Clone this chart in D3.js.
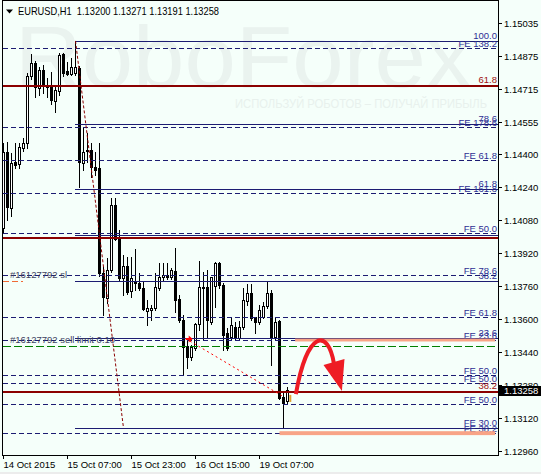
<!DOCTYPE html>
<meta charset="utf-8">
<style>
body { margin: 0; background: #f5fffa; }
svg { display: block; font-family: "Liberation Sans", Arial, sans-serif; }
.lvl { font-size: 9.5px; }
</style>
<svg width="541" height="474"></svg>
<script src="https://d3js.org/d3.v7.min.js"></script>
<script>

// DATA
var symbol = "EURUSD,H1";
var timeLabels = ["14 Oct 2015", "15 Oct 07:00", "15 Oct 23:00", "16 Oct 15:00", "19 Oct 07:00"];
var timeBars = [0, 16, 32, 48, 64];
var priceTicks = [1.15035, 1.14875, 1.14715, 1.14555, 1.14400, 1.14240, 1.14080,
                  1.13920, 1.13760, 1.13600, 1.13440, 1.13280, 1.13120, 1.12960];

var opens = [1.14041, 1.14410, 1.14138, 1.14361, 1.14351, 1.14429, 1.14453, 1.14778, 1.14841, 1.14720,
             1.14807, 1.14730, 1.14725, 1.14657, 1.14705, 1.14885, 1.14802, 1.14788, 1.14793, 1.14817,
             1.14356, 1.14419, 1.14419, 1.14337, 1.14332, 1.13823, 1.13702, 1.13837, 1.14153, 1.13997,
             1.13799, 1.13857, 1.13736, 1.13779, 1.13774, 1.13750, 1.13639, 1.13643, 1.13653, 1.13750,
             1.13804, 1.13813, 1.13804, 1.13833, 1.13697, 1.13595, 1.13469, 1.13416, 1.13459, 1.13576,
             1.13755, 1.13755, 1.13585, 1.13760, 1.13871, 1.13765, 1.13532, 1.13513, 1.13561, 1.13508,
             1.13561, 1.13687, 1.13726, 1.13610, 1.13585, 1.13610, 1.13663, 1.13726, 1.13513, 1.13590,
             1.13222, 1.13200];
var highs = [1.14453, 1.14458, 1.14405, 1.14453, 1.14453, 1.14477, 1.14793, 1.14885, 1.14851, 1.14822,
             1.14831, 1.14768, 1.14797, 1.14725, 1.14890, 1.14890, 1.14846, 1.14865, 1.14948, 1.14827,
             1.14526, 1.14502, 1.14453, 1.14410, 1.14453, 1.13852, 1.13896, 1.14187, 1.14187, 1.14031,
             1.13910, 1.13900, 1.13900, 1.13939, 1.13823, 1.13779, 1.13692, 1.13668, 1.13823, 1.13871,
             1.13871, 1.13871, 1.13847, 1.13944, 1.13716, 1.13619, 1.13498, 1.13474, 1.13581, 1.13881,
             1.13828, 1.13837, 1.13804, 1.13876, 1.13876, 1.13774, 1.13556, 1.13610, 1.13585, 1.13590,
             1.13750, 1.13770, 1.13770, 1.13610, 1.13668, 1.13682, 1.13779, 1.13741, 1.13610, 1.13595,
             1.13246, 1.13271];
var lows = [1.14022, 1.14080, 1.14099, 1.14332, 1.14332, 1.14414, 1.14429, 1.14764, 1.14676, 1.14686,
            1.14696, 1.14676, 1.14642, 1.14604, 1.14686, 1.14778, 1.14783, 1.14783, 1.14783, 1.14240,
            1.14322, 1.14361, 1.14288, 1.14298, 1.13808, 1.13619, 1.13677, 1.13828, 1.13983, 1.13789,
            1.13716, 1.13721, 1.13707, 1.13741, 1.13741, 1.13643, 1.13571, 1.13595, 1.13643, 1.13741,
            1.13789, 1.13794, 1.13794, 1.13634, 1.13585, 1.13328, 1.13362, 1.13401, 1.13450, 1.13547,
            1.13498, 1.13508, 1.13576, 1.13658, 1.13750, 1.13450, 1.13450, 1.13498, 1.13498, 1.13498,
            1.13551, 1.13668, 1.13595, 1.13532, 1.13576, 1.13605, 1.13653, 1.13377, 1.13503, 1.13212,
            1.13071, 1.13191];
var closes = [1.14410, 1.14143, 1.14356, 1.14347, 1.14434, 1.14453, 1.14778, 1.14841, 1.14725, 1.14807,
              1.14730, 1.14725, 1.14662, 1.14710, 1.14880, 1.14793, 1.14788, 1.14822, 1.14822, 1.14361,
              1.14410, 1.14414, 1.14337, 1.14322, 1.13823, 1.13707, 1.13837, 1.14153, 1.13988, 1.13799,
              1.13857, 1.13731, 1.13799, 1.13774, 1.13750, 1.13648, 1.13653, 1.13653, 1.13755, 1.13804,
              1.13813, 1.13804, 1.13837, 1.13692, 1.13595, 1.13464, 1.13416, 1.13464, 1.13576, 1.13755,
              1.13750, 1.13595, 1.13804, 1.13871, 1.13765, 1.13522, 1.13459, 1.13571, 1.13508, 1.13561,
              1.13692, 1.13726, 1.13605, 1.13585, 1.13643, 1.13663, 1.13726, 1.13513, 1.13585, 1.13217,
              1.13193, 1.13258];

// fibo retracement (solid), from bar 18 to the right edge
var retrPrices = [1.14948, 1.14546, 1.14231, 1.14007, 1.13784, 1.13510, 1.13071];
var retrLabels = ["100.0", "78.6", "61.8", "", "38.2", "23.6", "FE 30.0"];
var retrStart = 18;
var retrTrend = [[18, 1.14948], [30, 1.13071]];
// second retracement (thick dark red, full width)
var redPrices = [1.14730, 1.13993, 1.13246];
var redLabels = ["61.8", "", "38.2"];
// fibo expansion levels (dashed)
var fePrices = [1.14914, 1.14531, 1.14371, 1.14211, 1.14017, 1.13813, 1.13610, 1.13498,
                1.13328, 1.13290, 1.13188, 1.13047];
var feLabels = ["FE 138.2", "FE 178.6", "FE 61.8", "FE 161.8", "FE 50.0", "FE 78.6", "FE 61.8", "FE 23.6",
                "FE 50.0", "FE 50.0", "FE 50.0", "FE 38.2"];

// order
var orderId = "#16127792";
var slPrice = 1.13784;
var limitPrice = 1.13469;
var orderOpen = [46.3, 1.13503];
var orderPath = [[46.6, 1.13493], [70.1, 1.13222]];

// target zones [fromBar, toBar, priceTop, priceBottom]
var zones = [[72.9, 122.9, 1.13505, 1.13491], [69.0, 122.9, 1.13056, 1.13037]];
// forecast arrow: start, control1, control2, end, head tip, head left, head right
var arrowPts = [[73.1, 1.13236], [75.9, 1.13547], [81.1, 1.13556], [82.6, 1.13385],
                [84.6, 1.13251], [80.0, 1.13377], [85.25, 1.13406]];


var svg = d3.select("svg"),
    width = +svg.attr("width"),
    height = +svg.attr("height");
var frame = {left: 2, right: 498, top: 0, bottom: 455};

var x = d3.scaleLinear().domain([0, 1]).range([3.5, 7.5]);
var y = d3.scaleLinear().domain([1.12960, 1.15035]).range([451, 23]);

function py(p) { return Math.round(y(p)) + 0.5; }

svg.append("rect").attr("width", width).attr("height", height).attr("fill", "#f5fffa");
svg.append("rect").attr("y", 472).attr("width", width).attr("height", 2).attr("fill", "#ececec");

// watermark
svg.append("text")
    .attr("x", 15).attr("y", 87)
    .attr("textLength", 457).attr("lengthAdjust", "spacingAndGlyphs")
    .style("font-size", "88px")
    .attr("fill", "#eaf3ef")
    .text("RoboForex");
svg.append("text")
    .attr("x", 235).attr("y", 108)
    .attr("textLength", 252).attr("lengthAdjust", "spacingAndGlyphs")
    .style("font-size", "13px")
    .attr("fill", "#e8f1ed")
    .text("ИСПОЛЬЗУЙ РОБОТОВ – ПОЛУЧАЙ ПРИБЫЛЬ");

// candles
var bars = opens.map(function(o, i) {
  return {i: i, o: o, h: highs[i], l: lows[i], c: closes[i]};
});
var candles = svg.append("g").attr("shape-rendering", "crispEdges");
bars.forEach(function(d) {
  var cx = Math.floor(x(d.i));
  candles.append("line")
      .attr("x1", cx + 0.5).attr("x2", cx + 0.5)
      .attr("y1", Math.round(y(d.h))).attr("y2", Math.round(y(d.l)) + 1)
      .attr("stroke", "#000");
  var top = Math.round(y(Math.max(d.o, d.c))),
      bot = Math.round(y(Math.min(d.o, d.c)));
  if (d.c > d.o && bot - top >= 2) {
    candles.append("rect")
        .attr("x", cx - 0.5).attr("y", top + 0.5)
        .attr("width", 2).attr("height", bot - top)
        .attr("fill", "#fff").attr("stroke", "#000");
  } else {
    candles.append("rect")
        .attr("x", cx - 1).attr("y", top)
        .attr("width", 3).attr("height", Math.max(1, bot - top + 1))
        .attr("fill", "#000");
  }
});

// level lines
var lines = svg.append("g").attr("shape-rendering", "crispEdges");
fePrices.forEach(function(p) {
  lines.append("line")
      .attr("x1", frame.left + 1).attr("x2", frame.right)
      .attr("y1", py(p)).attr("y2", py(p))
      .attr("stroke", "#1c1c72").attr("stroke-dasharray", "5,3");
});
retrPrices.forEach(function(p) {
  lines.append("line")
      .attr("x1", Math.floor(x(retrStart))).attr("x2", frame.right)
      .attr("y1", py(p)).attr("y2", py(p))
      .attr("stroke", "#1c1c72");
});
redPrices.forEach(function(p) {
  lines.append("line")
      .attr("x1", frame.left + 1).attr("x2", frame.right)
      .attr("y1", Math.round(y(p))).attr("y2", Math.round(y(p)))
      .attr("stroke", "#8b0000").attr("stroke-width", 2);
});

// stop loss stub and sell limit line
lines.append("line")
    .attr("x1", frame.left + 1).attr("x2", x(5))
    .attr("y1", py(slPrice)).attr("y2", py(slPrice))
    .attr("stroke", "#f06a35").attr("stroke-dasharray", "6,3");
lines.append("line")
    .attr("x1", frame.left + 1).attr("x2", frame.right)
    .attr("y1", py(limitPrice)).attr("y2", py(limitPrice))
    .attr("stroke", "#008000").attr("stroke-dasharray", "8,3");

// retracement trend line
svg.append("line")
    .attr("x1", x(retrTrend[0][0])).attr("y1", y(retrTrend[0][1]))
    .attr("x2", x(retrTrend[1][0])).attr("y2", y(retrTrend[1][1]))
    .attr("stroke", "#8b0000").attr("stroke-dasharray", "3,2");

// order history line + arrow
svg.append("line")
    .attr("x1", x(orderPath[0][0])).attr("y1", y(orderPath[0][1]))
    .attr("x2", x(orderPath[1][0])).attr("y2", y(orderPath[1][1]))
    .attr("stroke", "#ff0000").attr("stroke-dasharray", "2,3");
svg.append("path")
    .attr("transform", "translate(" + x(orderOpen[0]) + "," + y(orderOpen[1]) + ")")
    .attr("d", "M-3,-1H0V-3.5L4,0L0,3.5V1H-3Z")
    .attr("fill", "#ff0000");

// level labels
var labels = svg.append("g").attr("class", "lvl").attr("text-anchor", "end");
fePrices.forEach(function(p, i) {
  labels.append("text").attr("x", 497).attr("y", Math.round(y(p)) - 1)
      .attr("fill", "#2e2e94").text(feLabels[i]);
});
retrPrices.forEach(function(p, i) {
  labels.append("text").attr("x", 497).attr("y", Math.round(y(p)) - 2)
      .attr("fill", "#2e2e94").text(retrLabels[i]);
});
redPrices.forEach(function(p, i) {
  labels.append("text").attr("x", 497).attr("y", Math.round(y(p)) - 3)
      .attr("fill", "#a01010").text(redLabels[i]);
});

// order labels
svg.append("text").attr("class", "lvl")
    .attr("x", 10).attr("y", Math.round(y(slPrice)) - 3)
    .attr("fill", "#3c4260").text(orderId + " sl");
svg.append("text").attr("class", "lvl")
    .attr("x", 10).attr("y", Math.round(y(limitPrice)) - 3)
    .attr("fill", "#3c4260").text(orderId + " sell limit 0.10");

// target zones
svg.append("g").selectAll("rect").data(zones).join("rect")
    .attr("x", function(d) { return x(d[0]); })
    .attr("width", function(d) { return x(d[1]) - x(d[0]); })
    .attr("y", function(d) { return y(d[2]); })
    .attr("height", function(d) { return y(d[3]) - y(d[2]); })
    .attr("fill", "#f8a486");

// small marker next to the last bar
svg.append("rect")
    .attr("x", x(71.45)).attr("width", 2)
    .attr("y", y(1.13232)).attr("height", y(1.13198) - y(1.13232))
    .attr("fill", "#e0a030");

// forecast arrow
var ap = d3.path();
ap.moveTo(x(arrowPts[0][0]), y(arrowPts[0][1]));
ap.bezierCurveTo(x(arrowPts[1][0]), y(arrowPts[1][1]),
                 x(arrowPts[2][0]), y(arrowPts[2][1]),
                 x(arrowPts[3][0]), y(arrowPts[3][1]));
svg.append("path").attr("d", ap.toString())
    .attr("fill", "none").attr("stroke", "#ee1c24").attr("stroke-width", 4);
svg.append("path")
    .attr("d", d3.line()([arrowPts[4], arrowPts[5], arrowPts[6]].map(function(d) { return [x(d[0]), y(d[1])]; })) + "Z")
    .attr("fill", "#ee1c24");

// frame and axes
var axes = svg.append("g").attr("shape-rendering", "crispEdges").attr("stroke", "#000");
axes.append("line").attr("x1", frame.left + 0.5).attr("x2", frame.left + 0.5).attr("y1", frame.top).attr("y2", frame.bottom + 1);
axes.append("line").attr("x1", frame.right + 0.5).attr("x2", frame.right + 0.5).attr("y1", frame.top).attr("y2", frame.bottom + 1);
axes.append("line").attr("x1", frame.left).attr("x2", frame.right + 1).attr("y1", frame.bottom + 0.5).attr("y2", frame.bottom + 0.5);
axes.append("line").attr("x1", frame.left).attr("x2", frame.right + 1).attr("y1", frame.top + 0.5).attr("y2", frame.top + 0.5);

priceTicks.forEach(function(v) {
  axes.append("line").attr("x1", frame.right).attr("x2", frame.right + 4)
      .attr("y1", py(v)).attr("y2", py(v));
  svg.append("text").attr("class", "lvl")
      .attr("x", 504).attr("y", py(v) + 3.5)
      .attr("fill", "#000").text(v.toFixed(5));
});
timeBars.forEach(function(b, i) {
  var tx = Math.floor(x(b)) + 0.5;
  axes.append("line").attr("x1", tx).attr("x2", tx)
      .attr("y1", frame.bottom).attr("y2", frame.bottom + 4);
  svg.append("text").attr("class", "lvl")
      .attr("x", tx).attr("y", 468)
      .attr("fill", "#000").text(timeLabels[i]);
});

// current price tag
var last = closes[closes.length - 1];
svg.append("rect")
    .attr("x", 499).attr("y", Math.round(y(last)) - 4)
    .attr("width", 42).attr("height", 10)
    .attr("fill", "#000");
svg.append("text").attr("class", "lvl")
    .attr("x", 504).attr("y", Math.round(y(last)) + 4)
    .attr("fill", "#fff").text(last.toFixed(5));

// header
svg.append("path").attr("d", "M6,9.5h7l-3.5,4z").attr("fill", "#000");
svg.append("text")
    .attr("x", 18).attr("y", 15)
    .attr("textLength", 201).attr("lengthAdjust", "spacingAndGlyphs")
    .style("white-space", "pre")
    .style("font-size", "10.5px")
    .attr("fill", "#000")
    .text(symbol + "  " + [opens, highs, lows, closes].map(function(a) {
      return a[a.length - 1].toFixed(5);
    }).join(" "));

</script>
